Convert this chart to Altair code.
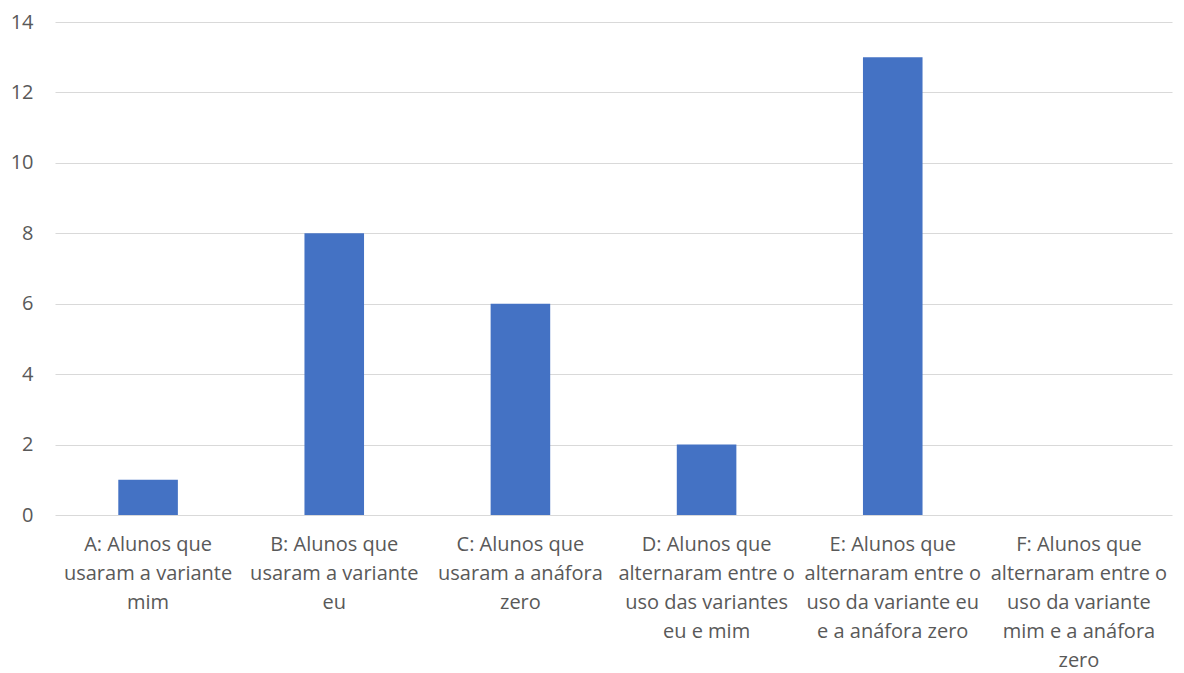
import altair as alt
import pandas as pd

# Category labels (lines separated by "|") and student counts
categories = [
    "A: Alunos que|usaram a variante|mim",
    "B: Alunos que|usaram a variante|eu",
    "C: Alunos que|usaram a anáfora|zero",
    "D: Alunos que|alternaram entre o|uso das variantes|eu e mim",
    "E: Alunos que|alternaram entre o|uso da variante eu|e a anáfora zero",
    "F: Alunos que|alternaram entre o|uso da variante|mim e a anáfora|zero",
]
counts = [1, 8, 6, 2, 13, 0]
y_ticks = [0, 2, 4, 6, 8, 10, 12, 14]

df = pd.DataFrame({"categoria": categories, "alunos": counts})

font = "Open Sans"
gray = "#595959"

chart = (
    alt.Chart(df)
    .mark_bar(color="#4472C4")
    .encode(
        x=alt.X(
            "categoria:N",
            sort=None,
            title=None,
            scale=alt.Scale(paddingInner=0.68, paddingOuter=0.34),
            axis=alt.Axis(
                labelAngle=0,
                labelExpr="split(datum.value, '|')",
                labelFont=font,
                labelFontSize=20,
                labelColor=gray,
                labelLineHeight=29,
                labelBaseline="top",
                labelPadding=19,
                ticks=False,
                domain=False,
                grid=False,
                labelLimit=300,
            ),
        ),
        y=alt.Y(
            "alunos:Q",
            title=None,
            scale=alt.Scale(domain=[0, 14], nice=False),
            axis=alt.Axis(
                values=y_ticks,
                labelFont=font,
                labelFontSize=20,
                labelColor=gray,
                labelPadding=22,
                ticks=False,
                domain=False,
                gridColor="#d9d9d9",
                gridWidth=1,
            ),
        ),
    )
    .properties(
        width=1117,
        height=493,
        background="white",
        autosize=alt.AutoSizeParams(type="none"),
        padding={"left": 55, "top": 22, "right": 12, "bottom": 158},
    )
    .configure_view(strokeWidth=0)
)

chart.save("out.html", embed_options={"renderer": "svg", "actions": False})
